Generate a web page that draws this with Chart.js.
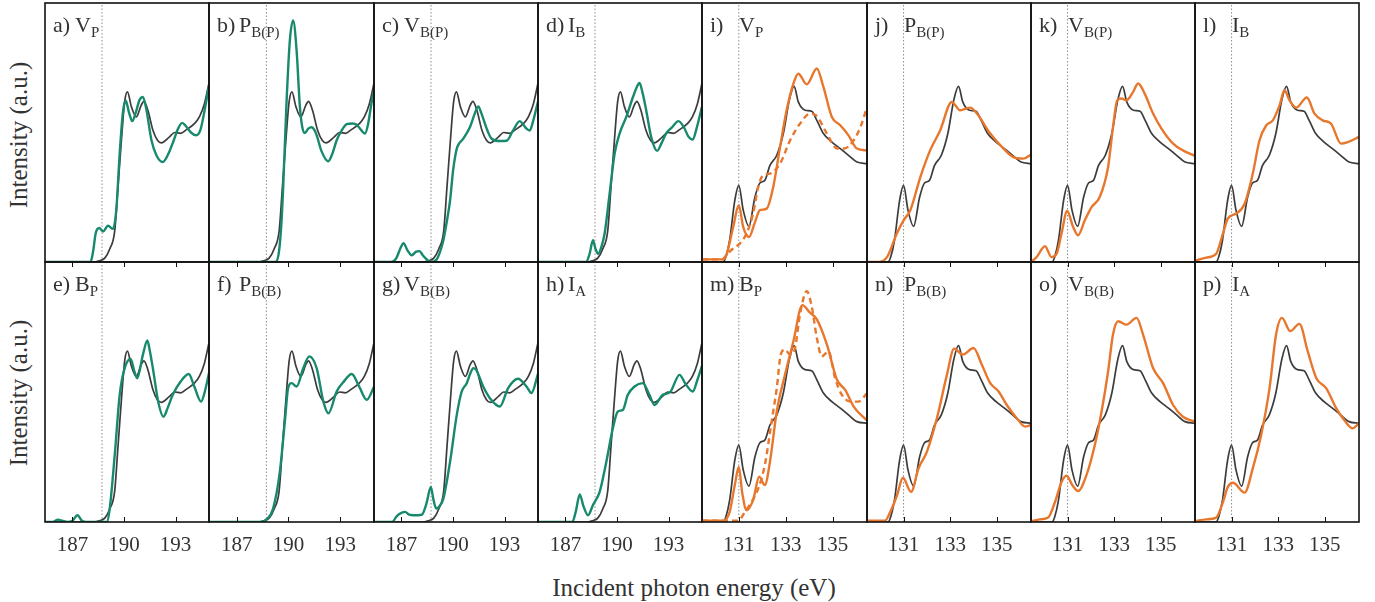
<!DOCTYPE html>
<html>
<head>
<meta charset="utf-8">
<script src="https://cdn.jsdelivr.net/npm/chart.js@4.4.1/dist/chart.umd.min.js"></script>
<style>
  html, body { margin: 0; padding: 0; background: #fff; }
  body { width: 1375px; height: 602px; position: relative; overflow: hidden;
         font-family: "Liberation Serif", "DejaVu Serif", serif; color: #333; }
  .panel { position: absolute; }
  .lbl { position: absolute; font-size: 22px; line-height: 22px; white-space: nowrap; color: #333; }
  .lbl sub { font-size: 15px; vertical-align: -5px; line-height: 0; }
  .ytitle { position: absolute; font-size: 25px; white-space: nowrap; transform: translate(-50%, -50%) rotate(-90deg); }
  .xtitle { position: absolute; font-size: 25px; white-space: nowrap; transform: translate(-50%, -50%); }
</style>
</head>
<body>
<div class="ytitle" style="left:19px; top:135px;">Intensity (a.u.)</div>
<div class="ytitle" style="left:19px; top:393px;">Intensity (a.u.)</div>
<div class="xtitle" style="left:694px; top:588px;">Incident photon energy (eV)</div>

<script>
// ---- energy axes (eV) ----
const bRange = [185.4, 194.95];
const pRange = [129.43, 136.47];
const bTicks = [187, 190, 193];
const pTicks = [131, 133, 135];
const bEdge = 188.72;   // dotted marker, B K-edge panels
const pEdge = 131.0;    // dotted marker, P L-edge panels

// ---- reference spectra (black), [energy, intensity] ----
const bRef = [[185.4,0],[188.3,0],[188.58,0.005],[188.88,0.015],[189.17,0.05],[189.46,0.12],[189.65,0.29],[189.85,0.47],[190.04,0.62],[190.2,0.657],[190.43,0.6],[190.72,0.56],[191.0,0.605],[191.16,0.62],[191.39,0.586],[191.68,0.51],[191.95,0.47],[192.17,0.46],[192.65,0.483],[192.95,0.5],[193.3,0.497],[193.62,0.51],[194.1,0.534],[194.39,0.56],[194.68,0.61],[194.95,0.69]];
const pRef = [[129.43,0],[130.33,0],[130.45,0.02],[130.61,0.084],[130.83,0.238],[131.0,0.296],[131.19,0.2],[131.43,0.138],[131.69,0.251],[131.9,0.305],[132.11,0.315],[132.33,0.373],[132.62,0.412],[132.9,0.496],[133.16,0.627],[133.36,0.678],[133.54,0.618],[133.83,0.586],[134.11,0.582],[134.33,0.547],[134.61,0.496],[134.97,0.463],[135.33,0.438],[135.68,0.412],[136.04,0.386],[136.47,0.38]];

// ---- B K-edge spectra (green) ----
const greenA = [[185.4,0],[188.05,0],[188.2,0.04],[188.35,0.11],[188.56,0.131],[188.78,0.118],[189.07,0.14],[189.36,0.128],[189.55,0.2],[189.75,0.42],[189.94,0.58],[190.1,0.624],[190.28,0.58],[190.48,0.544],[190.7,0.58],[190.9,0.625],[191.1,0.637],[191.3,0.59],[191.6,0.47],[191.9,0.41],[192.26,0.386],[192.6,0.42],[192.9,0.47],[193.15,0.515],[193.39,0.537],[193.6,0.525],[193.9,0.5],[194.2,0.489],[194.45,0.51],[194.65,0.57],[194.95,0.68]];
const greenB = [[185.4,0],[189.25,0],[189.45,0.04],[189.6,0.16],[189.7,0.3],[189.89,0.62],[190.08,0.856],[190.27,0.933],[190.47,0.817],[190.66,0.6],[190.8,0.52],[190.95,0.498],[191.15,0.515],[191.34,0.52],[191.5,0.51],[191.63,0.49],[191.9,0.43],[192.3,0.389],[192.55,0.42],[192.79,0.47],[193.1,0.51],[193.37,0.532],[193.7,0.535],[193.95,0.53],[194.2,0.51],[194.43,0.496],[194.6,0.53],[194.82,0.62],[194.95,0.66]];
const greenC = [[185.4,0],[186.4,0],[186.7,0.015],[186.95,0.055],[187.12,0.073],[187.35,0.045],[187.6,0.026],[187.85,0.04],[188.05,0.042],[188.25,0.025],[188.47,0.01],[188.71,0],[189.05,0.01],[189.25,0.04],[189.44,0.084],[189.65,0.16],[189.83,0.238],[190.0,0.35],[190.12,0.405],[190.25,0.444],[190.6,0.476],[190.99,0.521],[191.25,0.57],[191.47,0.601],[191.65,0.575],[191.86,0.534],[192.05,0.5],[192.25,0.476],[192.73,0.467],[193.12,0.468],[193.5,0.508],[193.89,0.544],[194.1,0.53],[194.28,0.515],[194.47,0.508],[194.65,0.54],[194.95,0.62]];
const greenD = [[185.4,0],[188.2,0],[188.4,0.03],[188.6,0.084],[188.75,0.05],[188.9,0.032],[189.1,0.06],[189.28,0.11],[189.57,0.264],[189.86,0.418],[190.15,0.496],[190.54,0.56],[190.93,0.637],[191.15,0.675],[191.31,0.691],[191.5,0.65],[191.7,0.586],[192.0,0.48],[192.34,0.429],[192.6,0.46],[192.86,0.496],[193.2,0.52],[193.58,0.544],[193.9,0.52],[194.15,0.485],[194.41,0.473],[194.65,0.52],[194.95,0.6]];
const greenE = [[185.4,0],[185.85,0],[186.16,0.009],[186.4,0.005],[186.7,0],[187.0,0.005],[187.29,0.026],[187.55,0.005],[187.8,0],[189.0,0],[189.17,0.052],[189.46,0.257],[189.75,0.489],[190.04,0.592],[190.39,0.627],[190.6,0.58],[190.77,0.553],[191.1,0.643],[191.36,0.698],[191.5,0.66],[191.68,0.592],[192.0,0.46],[192.3,0.405],[192.55,0.44],[192.84,0.489],[193.3,0.54],[193.77,0.569],[194.1,0.52],[194.49,0.463],[194.7,0.5],[194.95,0.573]];
const greenF = [[185.4,0],[188.4,0],[188.73,0.01],[189.11,0.052],[189.5,0.193],[189.79,0.386],[189.98,0.515],[190.18,0.534],[190.47,0.521],[190.86,0.592],[191.2,0.637],[191.63,0.592],[192.02,0.463],[192.31,0.418],[192.79,0.502],[193.2,0.54],[193.66,0.569],[194.1,0.52],[194.53,0.47],[194.95,0.52]];
const greenG = [[185.4,0],[186.45,0],[186.73,0.023],[187.0,0.035],[187.21,0.039],[187.45,0.028],[187.7,0.026],[188.18,0.028],[188.45,0.07],[188.71,0.135],[188.85,0.09],[189.02,0.052],[189.2,0.06],[189.44,0.09],[189.83,0.232],[190.22,0.412],[190.51,0.502],[190.8,0.534],[191.0,0.57],[191.18,0.592],[191.35,0.585],[191.76,0.521],[192.15,0.476],[192.73,0.444],[193.21,0.515],[193.79,0.551],[194.28,0.521],[194.57,0.496],[194.95,0.57]];
const greenH = [[185.4,0],[187.4,0],[187.6,0.04],[187.83,0.106],[188.05,0.06],[188.31,0.026],[188.6,0.065],[188.99,0.116],[189.38,0.232],[189.76,0.361],[190.05,0.425],[190.34,0.431],[190.63,0.489],[191.02,0.521],[191.5,0.534],[191.89,0.489],[192.18,0.45],[192.67,0.489],[193.1,0.5],[193.64,0.566],[194.0,0.53],[194.41,0.502],[194.7,0.55],[194.95,0.6]];

// ---- P L-edge spectra (orange) ----
const orangeI = [[129.43,0.01],[130.3,0.01],[130.47,0.026],[130.76,0.135],[131.0,0.219],[131.19,0.135],[131.44,0.097],[131.69,0.154],[131.9,0.2],[132.19,0.206],[132.47,0.29],[132.76,0.444],[133.04,0.586],[133.33,0.689],[133.54,0.727],[133.9,0.686],[134.33,0.747],[134.61,0.676],[134.97,0.56],[135.33,0.528],[135.68,0.489],[136.04,0.438],[136.47,0.431]];
const orangeIDashed = [[129.43,0.01],[130.3,0.01],[130.5,0.03],[130.76,0.052],[131.04,0.071],[131.33,0.11],[131.61,0.187],[131.83,0.29],[132.04,0.335],[132.33,0.341],[132.76,0.38],[133.19,0.47],[133.61,0.534],[134.04,0.573],[134.3,0.566],[134.76,0.496],[135.19,0.438],[135.5,0.438],[135.9,0.47],[136.19,0.521],[136.47,0.598]];
const orangeJ = [[129.43,0],[129.85,0],[130.29,0.019],[130.71,0.11],[131.0,0.161],[131.29,0.2],[131.72,0.328],[132.14,0.431],[132.57,0.508],[133.07,0.618],[133.43,0.586],[133.86,0.596],[134.15,0.573],[134.72,0.496],[135.29,0.438],[135.71,0.405],[136.14,0.399],[136.47,0.415]];
const orangeK = [[129.43,0],[129.67,0.019],[130.03,0.061],[130.31,0.019],[130.53,0.032],[130.74,0.11],[130.98,0.197],[131.24,0.135],[131.45,0.103],[131.74,0.161],[132.03,0.212],[132.38,0.251],[132.74,0.367],[132.95,0.521],[133.13,0.624],[133.31,0.631],[133.53,0.624],[133.81,0.656],[134.03,0.689],[134.31,0.65],[134.67,0.573],[135.03,0.515],[135.53,0.457],[135.95,0.431],[136.47,0.41]];
const orangeL = [[129.43,0.005],[129.91,0.017],[130.34,0.032],[130.63,0.11],[130.84,0.168],[131.2,0.187],[131.56,0.225],[131.91,0.341],[132.2,0.47],[132.49,0.528],[132.77,0.547],[133.06,0.605],[133.27,0.663],[133.49,0.624],[133.77,0.596],[134.23,0.635],[134.56,0.573],[134.91,0.547],[135.27,0.534],[135.7,0.457],[135.99,0.463],[136.47,0.483]];
const orangeM = [[129.43,0.005],[130.35,0.005],[130.61,0.039],[130.83,0.142],[131.0,0.212],[131.15,0.11],[131.33,0.045],[131.61,0.084],[131.87,0.174],[132.11,0.142],[132.33,0.232],[132.62,0.425],[132.97,0.566],[133.33,0.695],[133.71,0.834],[134.04,0.805],[134.33,0.779],[134.76,0.682],[135.19,0.547],[135.54,0.508],[135.9,0.444],[136.47,0.39]];
const orangeMDashed = [[129.43,0.005],[130.98,0.005],[131.1,0.015],[131.26,0.039],[131.54,0.077],[131.83,0.129],[132.11,0.219],[132.4,0.386],[132.62,0.515],[132.79,0.644],[132.97,0.663],[133.19,0.644],[133.4,0.669],[133.61,0.798],[133.9,0.888],[134.11,0.83],[134.33,0.708],[134.54,0.637],[134.83,0.656],[135.11,0.553],[135.4,0.489],[135.76,0.463],[136.1,0.463],[136.47,0.495]];
const orangeN = [[129.43,0.005],[130.2,0.005],[130.43,0.039],[130.72,0.103],[130.97,0.17],[131.32,0.116],[131.64,0.206],[132.0,0.27],[132.43,0.399],[132.86,0.566],[133.17,0.667],[133.54,0.644],[134.0,0.669],[134.36,0.605],[134.72,0.534],[135.08,0.502],[135.43,0.45],[135.86,0.399],[136.22,0.367],[136.47,0.373]];
const orangeO = [[129.43,0.003],[129.81,0.01],[130.17,0.017],[130.46,0.077],[130.74,0.154],[130.96,0.178],[131.2,0.142],[131.45,0.119],[131.81,0.18],[132.17,0.296],[132.46,0.425],[132.74,0.579],[132.95,0.721],[133.17,0.772],[133.53,0.759],[133.96,0.785],[134.24,0.721],[134.67,0.592],[135.1,0.534],[135.53,0.45],[135.95,0.405],[136.47,0.386]];
const orangeP = [[129.43,0.003],[129.91,0.01],[130.34,0.017],[130.63,0.077],[130.84,0.135],[131.06,0.151],[131.56,0.113],[131.91,0.206],[132.27,0.335],[132.63,0.515],[132.91,0.721],[133.16,0.785],[133.52,0.734],[133.91,0.762],[134.27,0.656],[134.64,0.553],[135.06,0.515],[135.49,0.438],[135.85,0.39],[136.2,0.36],[136.47,0.38]];

// ---- panel captions ----
const panelTags = ['a','b','c','d','i','j','k','l','e','f','g','h','m','n','o','p'];
const panelSymbols = ['V','P','V','I','V','P','V','I','B','P','V','I','B','P','V','I'];
const panelSubs = ['P','B(P)','B(P)','B','P','B(P)','B(P)','B','P','B(B)','B(B)','A','P','B(B)','B(B)','A'];

// ---- layout ----
const COLS = [45, 209, 374, 538, 702, 867, 1031, 1195, 1359];
const ROWS = [[3, 262], [262, 522]];
const PAD = 6, AXIS_H = 40;
const GREEN = '#17896c', ORANGE = '#e8772e', REF = '#3c3c3c';
const SERIF = '"Liberation Serif", "DejaVu Serif", serif';

const samples = [greenA, greenB, greenC, greenD, orangeI, orangeJ, orangeK, orangeL,
                 greenE, greenF, greenG, greenH, orangeM, orangeN, orangeO, orangeP];
const dashedSamples = { 4: orangeIDashed, 12: orangeMDashed };

const toXY = arr => arr.map(p => ({ x: p[0], y: p[1] }));

// frame around each panel plus inward tick marks
const framePlugin = {
  id: 'frame',
  afterDraw(chart, args, opts) {
    const { ctx, chartArea: a } = chart;
    const xs = chart.scales.x;
    ctx.save();
    ctx.strokeStyle = '#111';
    if (opts.ticks) {
      ctx.lineWidth = 1;
      for (const v of opts.ticks) {
        const px = Math.round(xs.getPixelForValue(v)) + 0.5;
        ctx.beginPath();
        ctx.moveTo(px, a.bottom); ctx.lineTo(px, a.bottom - 5);
        ctx.moveTo(px, a.top); ctx.lineTo(px, a.top + 5);
        ctx.stroke();
      }
    }
    ctx.lineWidth = 1.6;
    ctx.strokeRect(a.left, a.top, a.right - a.left, a.bottom - a.top);
    ctx.restore();
  }
};

samples.forEach((sample, i) => {
  const row = Math.floor(i / 8), col = i % 8;
  const isB = col < 4;
  const bottomRow = row === 1;
  const range = isB ? bRange : pRange;
  const tickVals = isB ? bTicks : pTicks;
  const edge = isB ? bEdge : pEdge;
  const left = COLS[col], w = COLS[col + 1] - COLS[col];
  const top = ROWS[row][0], h = ROWS[row][1] - ROWS[row][0];

  const box = document.createElement('div');
  box.className = 'panel';
  box.style.left = (left - PAD) + 'px';
  box.style.top = (top - PAD) + 'px';
  box.style.width = (w + 2 * PAD) + 'px';
  box.style.height = (h + 2 * PAD + (bottomRow ? AXIS_H : 0)) + 'px';
  const cv = document.createElement('canvas');
  box.appendChild(cv);
  document.body.appendChild(box);

  const lbl = document.createElement('div');
  lbl.className = 'lbl';
  lbl.style.left = (left + 8) + 'px';
  lbl.style.top = (top + 11) + 'px';
  lbl.textContent = panelTags[i] + ')';
  document.body.appendChild(lbl);
  const sym = document.createElement('div');
  sym.className = 'lbl';
  sym.style.left = (left + (isB ? 30 : 37)) + 'px';
  sym.style.top = (top + 11) + 'px';
  sym.innerHTML = panelSymbols[i] + '<sub>' + panelSubs[i] + '</sub>';
  document.body.appendChild(sym);

  const color = isB ? GREEN : ORANGE;
  const datasets = [
    { data: toXY(sample), borderColor: color, borderWidth: 2.4, order: 0 },
    { data: toXY(isB ? bRef : pRef), borderColor: REF, borderWidth: 1.7, order: 2 },
    { data: [{ x: edge, y: 0 }, { x: edge, y: 1 }], borderColor: '#8c8c8c', borderWidth: 1,
      borderDash: [1.5, 2], order: 3, cubicInterpolationMode: 'default', tension: 0 }
  ];
  if (dashedSamples[i]) {
    datasets.push({ data: toXY(dashedSamples[i]), borderColor: ORANGE, borderWidth: 2.4,
                    borderDash: [6, 4], order: 1 });
  }

  new Chart(cv, {
    type: 'line',
    data: { datasets },
    options: {
      responsive: true,
      maintainAspectRatio: false,
      animation: false,
      events: [],
      layout: { padding: { left: PAD, right: PAD, top: PAD, bottom: PAD } },
      elements: { point: { radius: 0 }, line: { cubicInterpolationMode: 'monotone', fill: false } },
      plugins: { legend: { display: false }, tooltip: { enabled: false },
                 frame: { ticks: bottomRow ? tickVals : null } },
      scales: {
        x: {
          type: 'linear', min: range[0], max: range[1], display: bottomRow,
          grid: { display: false, drawTicks: false }, border: { display: false },
          afterBuildTicks: s => { s.ticks = tickVals.map(v => ({ value: v })); },
          afterFit: s => { s.height = bottomRow ? AXIS_H : 0; },
          ticks: { font: { family: SERIF, size: 21 }, color: '#333', padding: 11,
                   maxRotation: 0, autoSkip: false }
        },
        y: { min: 0, max: 1, display: false }
      }
    },
    plugins: [framePlugin]
  });
});
</script>
</body>
</html>
